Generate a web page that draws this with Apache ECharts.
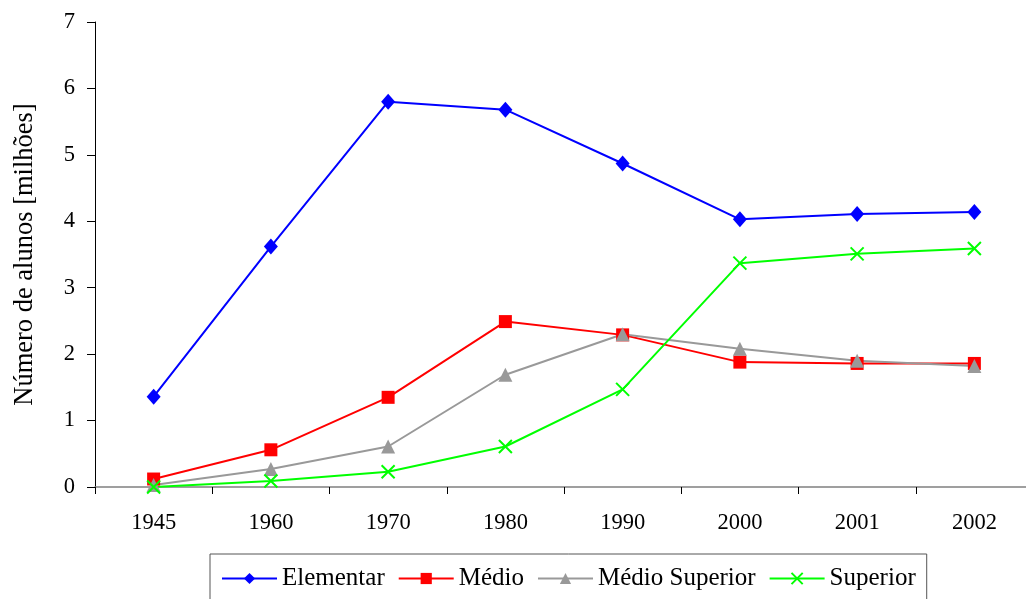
<!DOCTYPE html>
<html>
<head>
<meta charset="utf-8">
<script src="https://cdn.jsdelivr.net/npm/echarts@6/dist/echarts.min.js"></script>
<style>html,body{margin:0;padding:0;background:#fff;}#c{width:1026px;height:599px;}</style>
</head>
<body>
<div id="c"></div>
<script>
const categories = ['1945', '1960', '1970', '1980', '1990', '2000', '2001', '2002'];
const elementar = [1.36, 3.62, 5.80, 5.68, 4.87, 4.03, 4.11, 4.14];
const medio = [0.12, 0.56, 1.35, 2.49, 2.29, 1.88, 1.86, 1.86];
const medioSuperior = [0.03, 0.27, 0.61, 1.69, 2.30, 2.08, 1.90, 1.82];
const superior = [0.00, 0.09, 0.23, 0.61, 1.47, 3.37, 3.51, 3.59];
const yTicks = [0, 7, 1];

const FONT = "'Liberation Serif', 'Times New Roman', serif";
const chart = echarts.init(document.getElementById('c'), null, {renderer: 'canvas'});

function mk(name, data, color, symbol, size, extra) {
  return Object.assign({
    name: name, type: 'line', data: data,
    symbol: symbol, symbolSize: size, showSymbol: true,
    lineStyle: {color: color, width: 2},
    itemStyle: {color: color},
    emphasis: {disabled: true},
    animation: false
  }, extra || {});
}

chart.setOption({
  backgroundColor: '#fff',
  textStyle: {fontFamily: FONT},
  grid: {left: 95, top: 22, right: -7, bottom: 112, containLabel: false, outerBoundsMode: 'none'},
  legend: {
    left: 210, top: 554,
    padding: [12, 11, 20, 11],
    borderColor: '#555', borderWidth: 1,
    itemWidth: 55, itemHeight: 14, itemGap: 13,
    textStyle: {fontFamily: FONT, fontSize: 25, color: '#000'},
    data: ['Elementar', 'Médio', 'Médio Superior', 'Superior']
  },
  xAxis: {
    type: 'category', data: categories, boundaryGap: true,
    axisLine: {lineStyle: {color: '#808080', width: 1.5}},
    axisTick: {show: true, alignWithLabel: false, length: 7, lineStyle: {color: '#000'}},
    axisLabel: {fontFamily: FONT, fontSize: 22.5, color: '#000', margin: 25},
    splitLine: {show: false}
  },
  yAxis: {
    type: 'value', min: yTicks[0], max: yTicks[1], interval: yTicks[2],
    name: 'Número de alunos [milhões]', nameLocation: 'middle', nameGap: 56, nameRotate: 90,
    nameTextStyle: {fontFamily: FONT, fontSize: 26.5, color: '#000'},
    axisLine: {show: true, lineStyle: {color: '#000', width: 1}},
    axisTick: {show: true, length: 8, lineStyle: {color: '#000'}},
    axisLabel: {fontFamily: FONT, fontSize: 22.5, color: '#000', margin: 20},
    splitLine: {show: false}
  },
  series: [
    mk('Elementar', elementar, '#0000ff', 'diamond', [14, 16]),
    mk('Médio', medio, '#ff0000', 'rect', 13),
    mk('Médio Superior', medioSuperior, '#999999', 'triangle', 14),
    mk('Superior', superior, '#00ff00', 'path://M0,0L10,10M10,0L0,10', 13,
       {itemStyle: {color: 'rgba(0,0,0,0)', borderColor: '#00ff00', borderWidth: 2}})
  ]
});
</script>
</body>
</html>
